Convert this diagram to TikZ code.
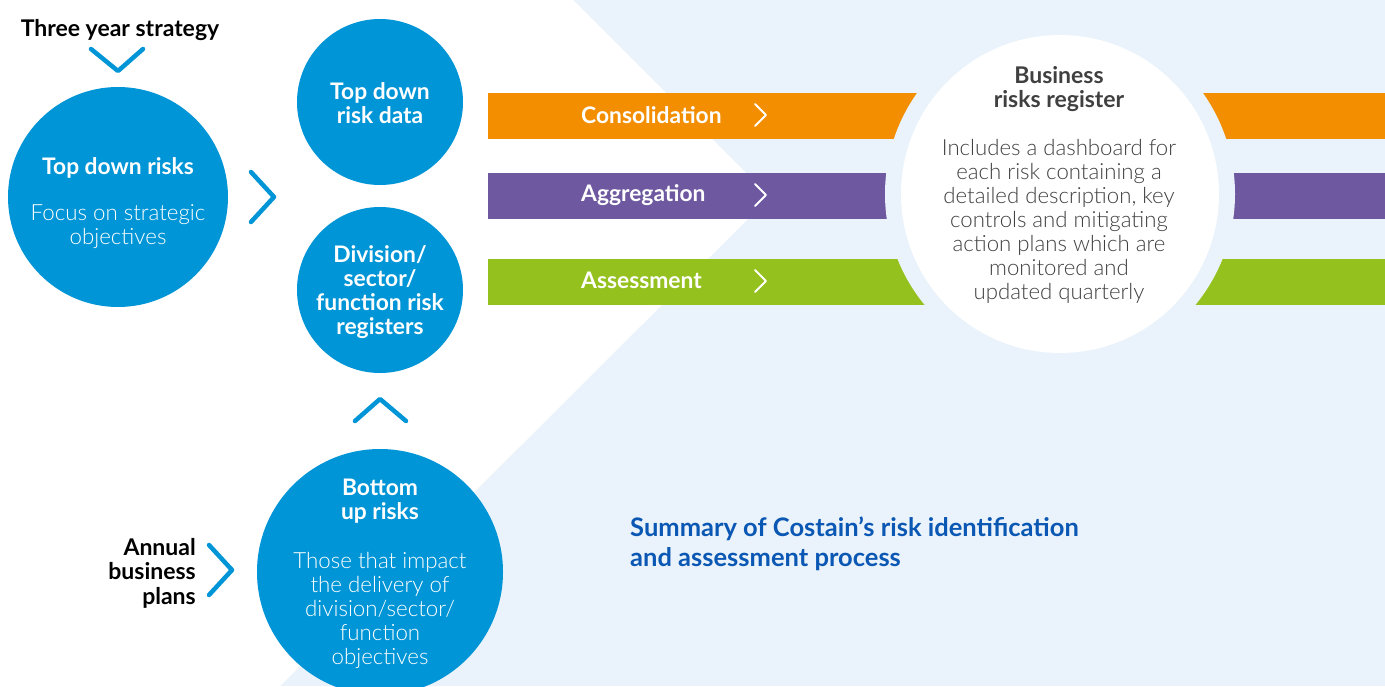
\documentclass[tikz,border=0pt]{standalone}
\usepackage{fontspec}
\setmainfont{Lato}
\newfontfamily\lightfont{Lato Light}
\usetikzlibrary{calc}
\definecolor{cblue}{RGB}{0,149,214}
\definecolor{corange}{RGB}{242,142,0}
\definecolor{cpurple}{RGB}{110,88,160}
\definecolor{cgreen}{RGB}{149,193,31}
\definecolor{cbg}{RGB}{234,243,251}
\definecolor{ctitle}{RGB}{11,87,180}
\definecolor{cgray}{RGB}{64,64,64}
\begin{document}
\begin{tikzpicture}[x=1pt,y=-1pt,
  bluecirc/.style={circle, fill=cblue, inner sep=0pt},
  boldw/.style={text=white, font=\bfseries\fontsize{22.8}{24}\selectfont, align=center, inner sep=0pt},
  lightw/.style={text=white, font=\lightfont\fontsize{22.3}{24}\selectfont, align=center, inner sep=0pt},
  boldk/.style={text=black, font=\bfseries\fontsize{23}{24.5}\selectfont, inner sep=0pt},
  chev/.style={draw=cblue, line width=4.5pt, line cap=round, line join=round},
  barbox/.style={inner sep=0pt, anchor=north west, minimum width=897pt, minimum height=46pt},
  barlabel/.style={text=white, font=\bfseries\fontsize{22.8}{24}\selectfont, anchor=west, inner sep=0pt},
  barchev/.style={draw=white, line width=1.8pt, line cap=round, line join=round}
]
\useasboundingbox (0,0) rectangle (1385,686);
% background
\fill[cbg] (0,0) rectangle (1385,686);
\fill[white] (0,0) -- (573,0) -- (770,197) -- (280,686) -- (0,686) -- cycle;

% bars
\node[barbox, fill=corange] (barc) at (488,93) {};
\node[barbox, fill=cpurple] (bara) at (488,173) {};
\node[barbox, fill=cgreen] (bars) at (488,259) {};
\fill[cbg] (1060,194) circle (175pt);
\node[circle, fill=white, inner sep=0pt, minimum size=318pt] (brr) at (1060,194) {};

\node[barlabel] (lc) at (581,115) {Consolidation};
\node[barlabel] (la) at (581,195) {Aggregation};
\node[barlabel] (ls) at (581,280) {Assessment};
\draw[barchev] (755,104) -- (766,115) -- (755,126);
\draw[barchev] (755,184) -- (766,195) -- (755,206);
\draw[barchev] (755,270) -- (766,281) -- (755,292);

% business risks register text
\node[text=cgray, font=\bfseries\fontsize{23}{24}\selectfont, align=center, inner sep=0pt] (brrt) at (1059,89) {Business\\risks register};
\node[text=cgray, font=\lightfont\fontsize{22.2}{24}\selectfont, align=center, inner sep=0pt] (brrb) at (1059,221) {Includes a dashboard for\\each risk containing a\\detailed description, key\\controls and mitigating\\action plans which are\\monitored and\\updated quarterly};

% circles
\node[bluecirc, minimum size=220pt] (tdr) at (118,197) {};
\node[bluecirc, minimum size=166pt] (tdd) at (380,102) {};
\node[bluecirc, minimum size=166pt] (div) at (380,290) {};
\node[bluecirc, minimum size=246pt] (bur) at (380,572) {};

\node[boldw] (tdrt) at (118,168) {Top down risks};
\node[lightw] (tdrb) at (118,227) {Focus on strategic\\objectives};
\node[boldw] (tddt) at (380,103) {Top down\\risk data};
\node[boldw] (divt) at (380,292) {Division/\\sector/\\function risk\\registers};
\node[boldw] (burt) at (380,501) {Bottom\\up risks};
\node[lightw] (burb) at (380,610) {Those that impact\\the delivery of\\division/sector/\\function\\objectives};

% side labels
\node[boldk] (tys) at (120,30) {Three year strategy};
\node[boldk, align=right, anchor=east] (abp) at (196,573) {Annual\\business\\plans};

% chevrons
\draw[chev] (91,49) -- (118,71) -- (143,49);
\draw[chev] (251,172) -- (274,197) -- (251,222);
\draw[chev] (355,421) -- (380,399) -- (406,421);
\draw[chev] (209,545) -- (232,570) -- (209,595);

% title
\node[text=ctitle, font=\bfseries\fontsize{25.5}{30}\selectfont, align=left, anchor=west, inner sep=0pt] (title) at (630,544) {Summary of Costain’s risk identification\\and assessment process};
\end{tikzpicture}
\end{document}
